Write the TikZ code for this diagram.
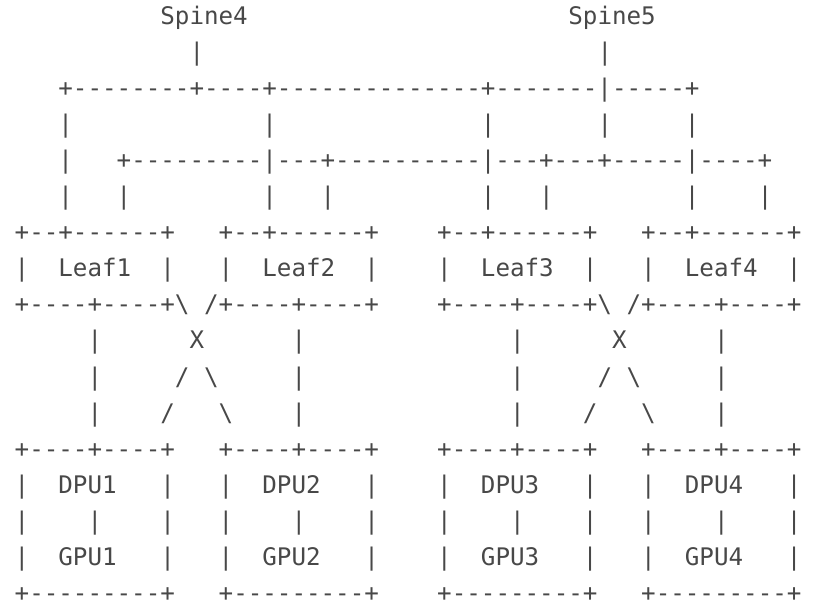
\documentclass[tikz,border=0pt]{standalone}
\usepackage{fontspec}
\setmonofont{DejaVu Sans Mono}
\definecolor{ink}{RGB}{72,72,72}
\tikzset{ascii/.style={font=\ttfamily\fontsize{24.2}{29}\selectfont, text=ink, anchor=base west, inner sep=0pt, outer sep=0pt}}
\newcommand\seg[3]{\node[ascii] (r#1c#2) at ({14.7pt+#2*14.57pt},{-24.5pt-#1*36.05pt}) {#3};}
\newcommand\bs{\textbackslash}
\begin{document}
\begin{tikzpicture}
\useasboundingbox (0,0) rectangle (813pt,-609pt);
% spines
\seg{0}{10}{Spine4}
\seg{0}{38}{Spine5}
\seg{1}{12}{|}
\seg{1}{40}{|}
\seg{2}{3}{+--------+----+--------------+-------|-----+}
\foreach \c in {3,17,32,40,46} {\seg{3}{\c}{|}}
\seg{4}{3}{|}
\seg{4}{7}{+---------|---+----------|---+---+-----|----+}
\foreach \c in {3,7,17,21,32,36,46,51} {\seg{5}{\c}{|}}
% leaves
\foreach \c in {0,14,29,43} {\seg{6}{\c}{+--+------+}}
\foreach \c in {0,10,14,24,29,39,43,53} {\seg{7}{\c}{|}}
\seg{7}{3}{Leaf1}
\seg{7}{17}{Leaf2}
\seg{7}{32}{Leaf3}
\seg{7}{46}{Leaf4}
\seg{8}{0}{+----+----+\bs}
\seg{8}{13}{/+----+----+}
\seg{8}{29}{+----+----+\bs}
\seg{8}{42}{/+----+----+}
% cross links
\foreach \c in {5,19,34,48} {\seg{9}{\c}{|}\seg{10}{\c}{|}\seg{11}{\c}{|}}
\seg{9}{12}{X}
\seg{9}{41}{X}
\seg{10}{11}{/}
\seg{10}{13}{\bs}
\seg{10}{40}{/}
\seg{10}{42}{\bs}
\seg{11}{10}{/}
\seg{11}{14}{\bs}
\seg{11}{39}{/}
\seg{11}{43}{\bs}
% DPU/GPU boxes
\foreach \c in {0,14,29,43} {\seg{12}{\c}{+----+----+}}
\foreach \c in {0,10,14,24,29,39,43,53} {\seg{13}{\c}{|}\seg{15}{\c}{|}}
\foreach \c in {0,5,10,14,19,24,29,34,39,43,48,53} {\seg{14}{\c}{|}}
\seg{13}{3}{DPU1}
\seg{13}{17}{DPU2}
\seg{13}{32}{DPU3}
\seg{13}{46}{DPU4}
\seg{15}{3}{GPU1}
\seg{15}{17}{GPU2}
\seg{15}{32}{GPU3}
\seg{15}{46}{GPU4}
\foreach \c in {0,14,29,43} {\seg{16}{\c}{+---------+}}
\end{tikzpicture}
\end{document}
